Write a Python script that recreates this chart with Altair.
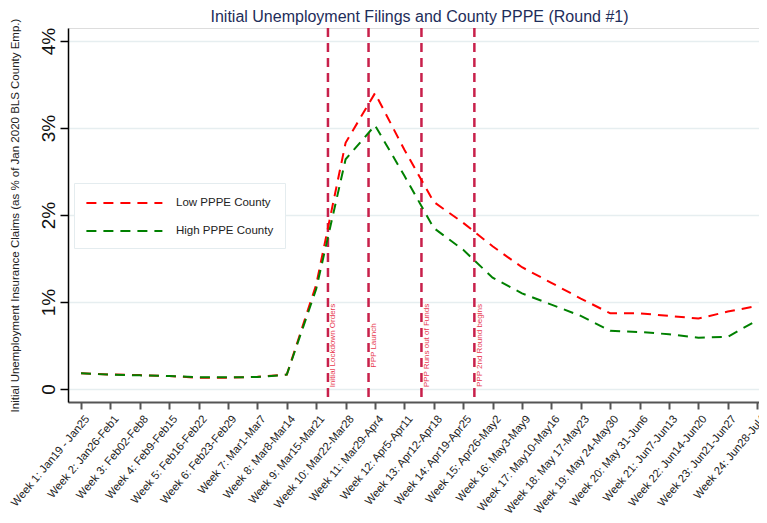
import json
import altair as alt
import pandas as pd

# ---------------- data ----------------
week_num = list(range(1, 25))
week_labels = [
    "Week 1: Jan19 - Jan25", "Week 2: Jan26-Feb1", "Week 3: Feb02-Feb8",
    "Week 4: Feb9-Feb15", "Week 5: Feb16-Feb22", "Week 6: Feb23-Feb29",
    "Week 7: Mar1-Mar7", "Week 8:  Mar8-Mar14", "Week 9:  Mar15-Mar21",
    "Week 10:  Mar22-Mar28", "Week 11:  Mar29-Apr4", "Week 12: Apr5-Apr11",
    "Week 13: Apr12-Apr18", "Week 14: Apr19-Apr25", "Week 15: Apr26-May2",
    "Week 16: May3-May9", "Week 17: May10-May16", "Week 18: May 17-May23",
    "Week 19: May 24-May30", "Week 20: May 31-Jun6", "Week 21: Jun7-Jun13",
    "Week 22: Jun14-Jun20", "Week 23: Jun21-Jun27", "Week 24: Jun28-Jul4",
]
low_pppe = [0.18, 0.167, 0.16, 0.15, 0.13, 0.13, 0.14, 0.165, 1.20, 2.83, 3.40, 2.75,
            2.15, 1.91, 1.64, 1.40, 1.22, 1.04, 0.87, 0.87, 0.84, 0.81, 0.89, 0.955]
high_pppe = [0.18, 0.165, 0.157, 0.15, 0.135, 0.135, 0.138, 0.165, 1.15, 2.64, 3.03, 2.45,
             1.85, 1.60, 1.28, 1.10, 0.97, 0.84, 0.67, 0.655, 0.63, 0.59, 0.60, 0.79]
series_names = ["Low PPPE County", "High PPPE County"]
series_colors = ["#ff0000", "#008000"]

event_names = ["Initial Lockdown Orders", "PPP Launch", "PPP Runs out of Funds",
               "PPP 2nd Round begins"]
event_weeks = [9.40, 10.78, 12.58, 14.38]
event_label_level = [0.5, 0.5, 0.5, 0.5]

y_ticks = [0, 1, 2, 3, 4]

# ---------------- tables ----------------
df = pd.concat([
    pd.DataFrame({"week": week_num, "value": low_pppe, "series": series_names[0]}),
    pd.DataFrame({"week": week_num, "value": high_pppe, "series": series_names[1]}),
], ignore_index=True)
df_events = pd.DataFrame({"week": event_weeks, "name": event_names,
                          "level": event_label_level})

# ---------------- scales / axes ----------------
FONT = "Liberation Sans"
x_scale = alt.Scale(domain=[0.558, 24.061], nice=False, zero=False)
y_scale = alt.Scale(domain=[-0.149, 4.149], nice=False, zero=False)

x_axis = alt.Axis(
    values=week_num,
    labelExpr=json.dumps(week_labels) + "[round(datum.value) - 1]",
    labelAngle=310, labelAlign="right", labelBaseline="top", labelPadding=4,
    labelOffset=1.5,
    labelFontSize=11.2, labelColor="#222222", labelFont=FONT,
    labelFlush=False, labelOverlap=False,
    tickSize=7, tickColor="#555555", tickWidth=2,
    domainColor="#555555", domainWidth=2, grid=False, title=None,
)
y_axis = alt.Axis(
    values=y_ticks,
    labelExpr="datum.value == 0 ? '0' : datum.value + '%'",
    labelAngle=270, labelAlign="center", labelBaseline="alphabetic", labelPadding=6,
    labelFontSize=19, labelColor="#111111", labelFont=FONT,
    labelFlush=False, labelOverlap=False,
    tickSize=8, tickColor="#000000", tickWidth=1.5,
    domainColor="#000000", domainWidth=1.5,
    grid=True, gridColor="#e6eef0", gridWidth=1.5,
    title="Initial Unemployment Insurance Claims (as % of Jan 2020 BLS County Emp.)",
    titleX=-53, titleY=187, titleAngle=270, titleAlign="center", titleBaseline="middle",
    titleFontSize=11.5, titleFontWeight="normal", titleColor="#222222", titleFont=FONT,
)

# ---------------- layers ----------------
rules = alt.Chart(df_events).mark_rule(
    color="#c8204b", strokeWidth=2.5, strokeDash=[9, 6]
).encode(x=alt.X("week:Q", scale=x_scale, axis=x_axis))

rule_text = alt.Chart(df_events).mark_text(
    angle=270, align="center", baseline="top", dy=1.5,
    fontSize=8, color="#e8384f", font=FONT,
).encode(
    x=alt.X("week:Q", scale=x_scale, axis=x_axis),
    y=alt.Y("level:Q", scale=y_scale, axis=y_axis),
    text="name:N",
)

lines = alt.Chart(df).mark_line(strokeWidth=2, strokeDash=[10, 7]).encode(
    x=alt.X("week:Q", scale=x_scale, axis=x_axis),
    y=alt.Y("value:Q", scale=y_scale, axis=y_axis),
    color=alt.Color(
        "series:N",
        scale=alt.Scale(domain=series_names, range=series_colors),
        legend=alt.Legend(
            orient="none", legendX=6, legendY=155, title=None,
            symbolType="M-1,0H9", symbolSize=231, symbolStrokeWidth=2,
            symbolDash=[10, 7], labelFontSize=11.5, labelColor="#222222",
            labelFont=FONT, labelOffset=73, padding=11, rowPadding=13,
            strokeColor="#e4ecef", fillColor="white",
        ),
    ),
    detail="series:N",
)

chart = alt.layer(rules, rule_text, lines).properties(
    width=691, height=374,
    autosize=alt.AutoSizeParams(type="none"),
    padding={"left": 60, "top": 20, "right": 0, "bottom": 121},
    title=alt.TitleParams(
        "Initial Unemployment Filings and County PPPE (Round #1)",
        fontSize=16, font=FONT, fontWeight="normal", color="#1e2d5a",
        anchor="middle", offset=-7, dx=6,
    ),
).configure_view(stroke=None).configure(background="white")

chart.save("out.html", embed_options={"renderer": "svg", "actions": False})
